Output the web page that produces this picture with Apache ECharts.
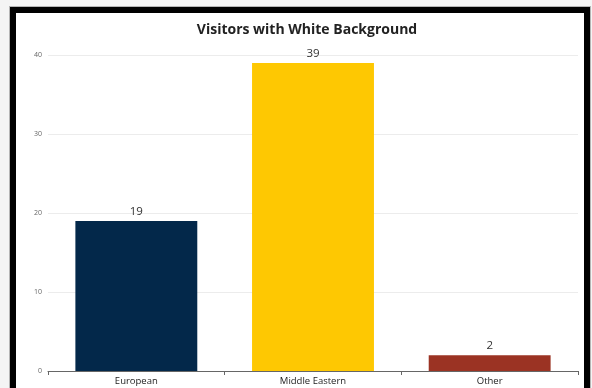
<!DOCTYPE html>
<html>
<head>
<meta charset="utf-8">
<script src="https://cdn.jsdelivr.net/npm/echarts@6/dist/echarts.min.js"></script>
<style>
  html, body { margin: 0; padding: 0; background: #f4f4f4; }
  #frame {
    position: absolute; left: 10px; top: 7px; width: 580px; height: 400px;
    box-sizing: border-box; border: 6px solid #000; background: #fff;
    box-shadow: 0 0 0 1px #b5b5b5;
  }
  #chart { position: absolute; left: 0; top: 0; width: 592px; height: 388px; }
</style>
</head>
<body>
<div id="frame"></div>
<div id="chart"></div>
<script>
// Visitor counts by background
const categories = ['European', 'Middle Eastern', 'Other'];
const visitors = [19, 39, 2];
const barColors = ['#03284a', '#fec802', '#9b3323'];

const chart = echarts.init(document.getElementById('chart'), null, { renderer: 'canvas' });
chart.setOption({
  backgroundColor: 'transparent',
  animation: false,
  title: {
    text: 'Visitors with White Background',
    left: 302, top: 18, textAlign: 'center',
    textStyle: { fontFamily: 'Open Sans', fontWeight: 'bold', fontSize: 14, color: '#222' }
  },
  grid: { left: 48, right: 14, top: 55, bottom: 17, containLabel: false },
  xAxis: {
    type: 'category',
    data: categories,
    axisLine: { lineStyle: { color: '#666', width: 1 } },
    axisTick: { show: true, length: 4, lineStyle: { color: '#666' } },
    axisLabel: { fontFamily: 'Open Sans', fontSize: 9.5, color: '#222', margin: 5 }
  },
  yAxis: {
    type: 'value',
    min: 0, max: 40, interval: 10,
    axisLine: { show: false },
    axisTick: { show: false },
    axisLabel: { fontFamily: 'Open Sans', fontSize: 7, color: '#666', margin: 6 },
    splitLine: { lineStyle: { color: '#ececec', width: 1 } }
  },
  series: [{
    type: 'bar',
    data: visitors.map((v, i) => ({ value: v, itemStyle: { color: barColors[i] } })),
    barCategoryGap: '31%',
    label: {
      show: true, position: 'top', distance: 3,
      fontFamily: 'Open Sans', fontSize: 11.5, color: '#333'
    }
  }]
});
</script>
</body>
</html>
